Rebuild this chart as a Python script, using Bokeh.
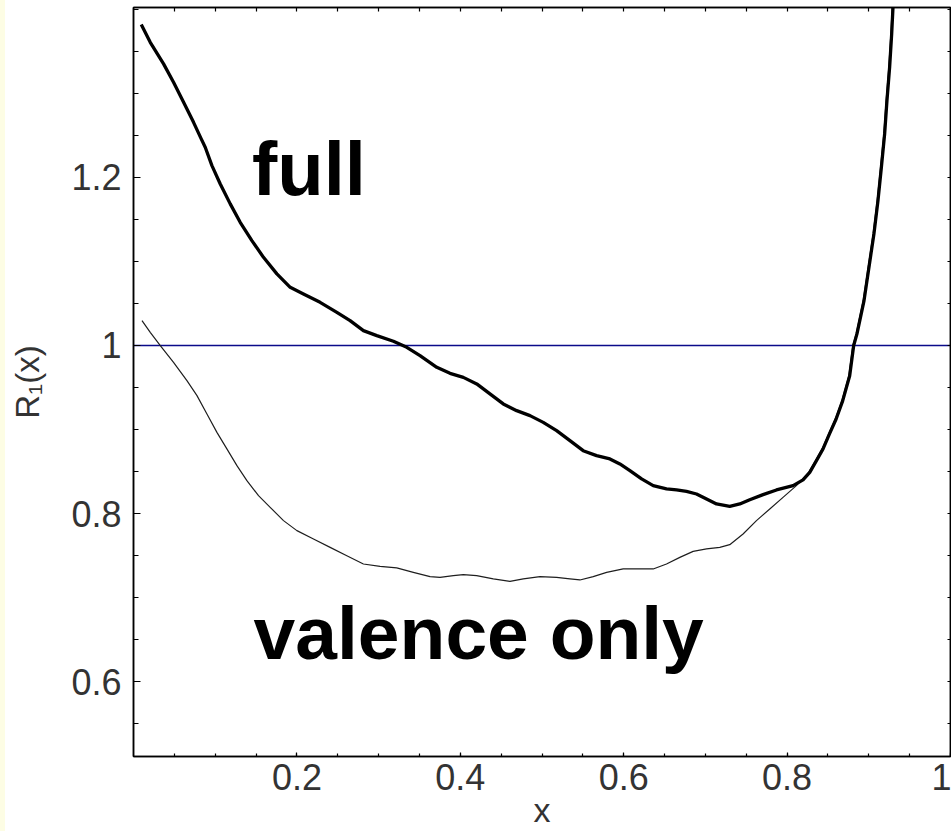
import numpy as np
from bokeh.plotting import figure
from bokeh.models import Range1d, LinearAxis, FixedTicker, Span, Label, Div
from bokeh.layouts import row
from bokeh.embed import file_html
from bokeh.resources import INLINE

# ---- data ----
x_full = [0.0095, 0.0205, 0.0368, 0.049, 0.0613, 0.0735, 0.0829, 0.0878, 0.096, 0.1062,
          0.1184, 0.1306, 0.1449, 0.1591, 0.1755, 0.1918, 0.208, 0.2284, 0.2489, 0.2651,
          0.2814, 0.2978, 0.3181, 0.3345, 0.3507, 0.3712, 0.3874, 0.4037, 0.4201, 0.4363,
          0.4526, 0.469, 0.4853, 0.5015, 0.5179, 0.5342, 0.5504, 0.5668, 0.5831, 0.5953,
          0.6076, 0.6219, 0.6361, 0.6524, 0.6647, 0.6769, 0.6891, 0.7014, 0.7136, 0.7298,
          0.7421, 0.7543, 0.7706, 0.787, 0.8073, 0.8195, 0.8277, 0.8359, 0.844, 0.852,
          0.860, 0.868, 0.8766, 0.8815, 0.8855, 0.8941, 0.9002, 0.9063, 0.9112, 0.9154,
          0.9194, 0.9222, 0.9255, 0.928, 0.9296, 0.931]
y_full = [1.3817, 1.3606, 1.3349, 1.313, 1.2892, 1.2654, 1.2457, 1.2357, 1.2139, 1.1921,
          1.1684, 1.1465, 1.1247, 1.1048, 1.0851, 1.0691, 1.0613, 1.0513, 1.0394, 1.0295,
          1.0176, 1.0117, 1.0049, 0.9977, 0.9879, 0.974, 0.9668, 0.962, 0.9542, 0.9423,
          0.9304, 0.9224, 0.9165, 0.9085, 0.8986, 0.8867, 0.8748, 0.8689, 0.865, 0.859,
          0.851, 0.8412, 0.8332, 0.8293, 0.8281, 0.8264, 0.8233, 0.8174, 0.8114, 0.8086,
          0.8114, 0.8165, 0.8225, 0.8281, 0.8332, 0.840, 0.849, 0.863, 0.877, 0.895,
          0.9125, 0.934, 0.964, 1.000, 1.0137, 1.053, 1.093, 1.1327, 1.172, 1.212,
          1.2516, 1.291, 1.331, 1.3705, 1.402, 1.425]

x_val = [0.0104, 0.0205, 0.0328, 0.049, 0.0654, 0.0777, 0.0899, 0.1021, 0.1143, 0.1266,
         0.1388, 0.153, 0.1673, 0.1836, 0.200, 0.2203, 0.2407, 0.2611, 0.2814, 0.3018,
         0.3222, 0.3425, 0.363, 0.3752, 0.3915, 0.4037, 0.420, 0.4404, 0.4608, 0.4771,
         0.4975, 0.5179, 0.5342, 0.5464, 0.5627, 0.5791, 0.5994, 0.6198, 0.6361, 0.6524,
         0.6687, 0.685, 0.7014, 0.7176, 0.7298, 0.7461, 0.7625, 0.7788, 0.795, 0.8114,
         0.8265, 0.8349, 0.843, 0.851, 0.859, 0.867, 0.8756, 0.8805, 0.8845, 0.8931,
         0.8992, 0.9053, 0.9102, 0.9144, 0.9184, 0.9212, 0.9245, 0.927, 0.9286, 0.930]
y_val = [1.0295, 1.0156, 0.9998, 0.9799, 0.9581, 0.9403, 0.9185, 0.8966, 0.8769, 0.857,
         0.8391, 0.8213, 0.8074, 0.7916, 0.7797, 0.7698, 0.7598, 0.7499, 0.740, 0.7372,
         0.7353, 0.730, 0.7249, 0.7241, 0.7261, 0.7273, 0.7261, 0.7222, 0.7193, 0.7222,
         0.7249, 0.7241, 0.7222, 0.721, 0.7249, 0.730, 0.7341, 0.7341, 0.7341, 0.740,
         0.7479, 0.755, 0.7579, 0.7598, 0.763, 0.7757, 0.7916, 0.8055, 0.8193, 0.8332,
         0.849, 0.863, 0.877, 0.895, 0.9125, 0.934, 0.964, 1.000, 1.0137, 1.053,
         1.093, 1.1327, 1.172, 1.212, 1.2516, 1.291, 1.331, 1.3705, 1.402, 1.425]

x_major = [0.2, 0.4, 0.6, 0.8, 1.0]
x_tick_labels = ["0.2", "0.4", "0.6", "0.8", "1"]
y_major = [0.6, 0.8, 1.0, 1.2]
y_tick_labels = ["0.6", "0.8", "1", "1.2"]
reference_level = 1.0
series_names = ["full", "valence only"]
x_title = "x"
y_title = "R\u2081(x)"

x_minor = [round(v, 2) for v in np.arange(0.05, 1.0001, 0.05)]
y_minor = [round(v, 2) for v in np.arange(0.55, 1.4001, 0.05)]

FONT = "Liberation Sans"
TICK_COLOR = "#333333"

p = figure(width=946, height=831,
           x_range=Range1d(0, 1), y_range=Range1d(0.511, 1.402),
           output_backend="svg", toolbar_location=None,
           x_axis_location=None, y_axis_location=None,
           min_border_left=128, min_border_right=1,
           min_border_top=7, min_border_bottom=75,
           background_fill_color="white", border_fill_color="white")
p.outline_line_color = "black"
p.outline_line_width = 1.5
p.grid.visible = False


def style_axis(ax, tin, tmin):
    ax.axis_line_color = "black"
    ax.axis_line_width = 1.5
    ax.major_tick_line_color = "black"
    ax.minor_tick_line_color = "black"
    ax.major_tick_line_width = 1.2
    ax.minor_tick_line_width = 1.2
    ax.major_tick_in = tin
    ax.major_tick_out = 0
    ax.minor_tick_in = tmin
    ax.minor_tick_out = 0
    ax.major_label_text_font = FONT
    ax.major_label_text_font_size = "36px"
    ax.major_label_text_color = TICK_COLOR
    ax.axis_label_text_font = FONT
    ax.axis_label_text_font_style = "normal"
    ax.axis_label_text_color = TICK_COLOR


# bottom axis with labels and title
xb = LinearAxis(ticker=FixedTicker(ticks=x_major, minor_ticks=x_minor),
                major_label_overrides=dict(zip(x_major, x_tick_labels)),
                axis_label=x_title)
style_axis(xb, 4, 3)
xb.major_label_standoff = 7
xb.axis_label_text_font_size = "34px"
xb.axis_label_standoff = -2
p.add_layout(xb, "below")

# top axis: mirrored ticks only (all as minor ticks, so no labels)
xt = LinearAxis(ticker=FixedTicker(ticks=[], minor_ticks=x_minor))
style_axis(xt, 4, 4)
xt.major_label_standoff = 0
p.add_layout(xt, "above")

# left axis with labels
yl = LinearAxis(ticker=FixedTicker(ticks=y_major, minor_ticks=y_minor),
                major_label_overrides=dict(zip(y_major, y_tick_labels)),
                axis_label=y_title)
style_axis(yl, 7, 5)
yl.major_label_standoff = 12
yl.axis_label_text_font_size = "33px"
yl.axis_label_standoff = 22
p.add_layout(yl, "left")

# right axis: mirrored ticks only
yr = LinearAxis(ticker=FixedTicker(ticks=[], minor_ticks=y_minor))
style_axis(yr, 3, 3)
yr.major_label_standoff = 0
p.add_layout(yr, "right")

p.add_layout(Span(location=reference_level, dimension="width",
                  line_color="#0a0a8a", line_width=1.5, level="underlay"))

p.line(x_val, y_val, line_color="#1e1e1e", line_width=1.2, line_join="round")
p.line(x_full, y_full, line_color="black", line_width=3.3, line_join="round")

p.add_layout(Label(x=0.145, y=1.211, text=series_names[0], text_font=FONT,
                   text_font_size="76px", text_font_style="bold",
                   text_color="black", text_baseline="alphabetic"))
p.add_layout(Label(x=0.147, y=0.658, text=series_names[1], text_font=FONT,
                   text_font_size="75px", text_font_style="bold",
                   text_color="black", text_baseline="alphabetic"))

strip = Div(text="", width=5, height=831, margin=0,
            styles={"background-color": "#fdfde4"})
layout = row(strip, p, spacing=0)

open("out.html", "w").write(file_html(layout, INLINE))
